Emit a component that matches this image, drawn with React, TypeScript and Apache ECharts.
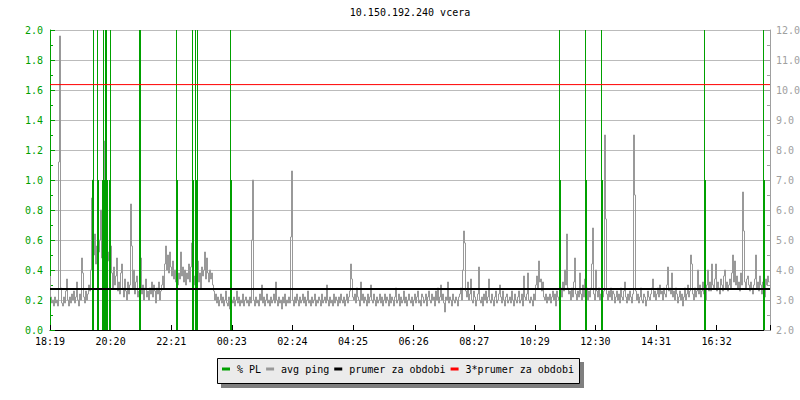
import React, { useEffect, useRef } from 'react';
import * as echarts from 'echarts';

const chartTitle = '10.150.192.240 vcera';
const xTickLabels = ['18:19', '20:20', '22:21', '00:23', '02:24', '04:25', '06:26', '08:27', '10:29', '12:30', '14:31', '16:32'];
const xTickStepMin = 121.2;
const periodMin = 1440;
const sampleStepMin = 2;

const legendNames = ['% PL', 'avg ping', 'prumer za obdobi', '3*prumer za obdobi'];

// avg ping [ms], one sample per 2 minutes, starting 18:19
const avgPing = [
  3.8, 3.1, 2.9, 3.0, 2.8, 3.1, 2.9, 3.0, 2.8, 7.6, 11.8, 3.4, 2.9, 2.8, 3.1, 2.9, 3.3, 3.7, 3.0, 2.8,
  3.1, 2.9, 3.2, 3.0, 3.3, 2.9, 3.1, 3.6, 3.0, 2.8, 3.2, 3.0, 4.4, 3.9, 3.1, 2.9, 3.3, 3.0, 3.2, 3.5,
  3.3, 4.0, 6.4, 7.0, 4.5, 5.2, 4.2, 4.8, 3.9, 4.6, 5.0, 6.0, 4.4, 3.8, 5.5, 8.3, 5.0, 5.8, 4.3, 4.6,
  3.6, 4.8, 3.9, 3.4, 4.1, 3.5, 3.8, 4.4, 3.3, 3.6, 3.2, 3.9, 4.2, 3.4, 3.1, 3.7, 3.3, 3.0, 3.6, 3.2,
  3.5, 6.2, 4.8, 3.4, 4.0, 3.2, 3.6, 3.8, 3.1, 3.3, 3.4, 4.4, 3.2, 3.5, 3.0, 3.4, 3.7, 3.1, 3.3, 3.0,
  3.4, 3.2, 3.6, 3.1, 3.5, 3.3, 2.9, 3.4, 3.2, 3.6, 3.0, 3.3, 3.5, 3.8, 3.4, 4.2, 4.8, 4.0, 4.5, 3.9,
  4.6, 4.1, 3.8, 4.3, 3.7, 4.0, 3.6, 4.2, 3.5, 3.9, 3.7, 4.6, 3.8, 4.1, 3.6, 4.0, 3.5, 3.9, 3.7, 4.2,
  3.6, 4.1, 4.9, 4.2, 3.8, 3.5, 4.0, 3.7, 4.3, 3.6, 3.9, 3.4, 4.1, 3.8, 4.0, 4.6, 3.7, 4.4, 3.9, 3.6,
  4.0, 3.7, 3.9, 3.5, 3.3, 3.0, 3.2, 2.9, 3.1, 2.8, 3.0, 3.2, 2.9, 3.1, 2.8, 3.0, 3.3, 2.9, 2.8, 3.1,
  2.7, 3.2, 3.0, 2.9, 3.1, 2.8, 3.0, 3.3, 2.9, 3.1, 2.8, 3.0, 2.9, 3.2, 2.8, 3.0, 3.1, 2.9, 3.0, 2.8,
  3.1, 2.9, 5.0, 7.0, 3.0, 2.8, 3.1, 2.9, 3.0, 2.8, 3.2, 3.0, 3.5, 2.9, 3.1, 2.8, 3.0, 3.2, 2.9, 3.0,
  2.8, 3.1, 2.9, 3.0, 3.2, 2.9, 3.6, 3.0, 2.8, 3.1, 2.9, 3.0, 2.7, 3.1, 2.9, 3.2, 2.8, 3.0, 2.9, 3.1,
  2.9, 5.1, 7.3, 3.0, 2.8, 3.1, 2.9, 3.2, 3.0, 2.8, 3.1, 2.9, 3.0, 3.2, 2.9, 3.1, 2.8, 3.0, 3.3, 2.9,
  3.0, 2.8, 3.1, 2.9, 3.0, 3.2, 2.8, 3.0, 2.9, 3.1, 3.0, 2.8, 3.2, 2.9, 3.0, 3.1, 2.9, 3.5, 3.0, 2.8,
  3.1, 2.9, 3.0, 2.8, 3.2, 2.9, 3.1, 3.0, 2.8, 3.1, 2.9, 3.2, 3.0, 2.9, 3.1, 2.8, 3.0, 3.2, 2.9, 3.1,
  3.3, 4.2, 3.7, 3.1, 3.0, 3.2, 2.9, 3.4, 3.1, 3.0, 2.8, 3.6, 3.0, 3.2, 2.9, 3.1, 3.0, 2.8, 3.2, 2.9,
  3.1, 3.5, 3.0, 2.9, 3.2, 3.0, 2.8, 3.1, 2.9, 3.0, 3.2, 2.9, 3.1, 2.8, 3.0, 3.2, 2.9, 3.1, 3.0, 2.8,
  3.2, 2.9, 3.1, 3.0, 2.8, 3.1, 3.4, 2.9, 3.0, 3.2, 2.8, 3.1, 2.9, 3.0, 3.3, 2.9, 3.1, 2.8, 3.0, 3.2,
  3.0, 2.9, 3.1, 2.8, 3.0, 3.2, 2.9, 3.1, 3.3, 2.9, 3.0, 2.8, 3.2, 3.1, 2.9, 3.0, 3.2, 2.8, 3.1, 3.3,
  3.0, 2.9, 3.2, 3.0, 3.1, 2.8, 3.3, 3.0, 3.4, 2.9, 3.1, 3.5, 3.0, 3.2, 2.9, 2.6, 3.1, 3.0, 3.6, 2.9,
  3.1, 3.0, 2.8, 3.2, 3.0, 2.9, 3.1, 3.0, 2.8, 3.1, 3.2, 3.4, 3.0, 4.0, 5.3, 4.9, 3.3, 3.1, 3.6, 3.0,
  3.2, 3.7, 3.0, 2.9, 3.3, 3.1, 2.8, 3.0, 3.2, 4.1, 3.0, 2.9, 3.1, 2.8, 3.2, 3.0, 3.3, 2.9, 3.1, 3.7,
  3.0, 2.9, 3.2, 3.0, 2.8, 3.1, 3.3, 2.9, 3.0, 3.2, 3.5, 3.1, 2.9, 3.3, 3.0, 2.8, 3.1, 3.2, 2.9, 3.0,
  3.1, 2.9, 3.3, 3.0, 2.8, 3.2, 3.0, 2.9, 3.1, 3.3, 2.9, 3.0, 3.2, 2.8, 3.8, 3.1, 3.0, 3.2, 3.9, 3.0,
  2.9, 3.1, 3.0, 2.8, 3.2, 3.0, 3.5, 3.8, 3.4, 4.3, 3.6, 3.7, 3.3, 3.6, 3.1, 3.0, 3.2, 2.9, 3.1, 3.0,
  3.2, 2.9, 3.1, 3.3, 3.0, 3.2, 2.8, 3.3, 3.1, 3.0, 3.2, 3.4, 3.1, 3.6, 3.3, 4.0, 3.5, 5.2, 3.4, 3.2,
  3.3, 3.0, 3.4, 3.1, 3.6, 4.4, 3.2, 3.0, 3.3, 3.1, 3.9, 3.2, 3.0, 3.5, 3.1, 3.7, 3.2, 3.4, 3.0, 3.3,
  3.1, 3.4, 4.2, 5.4, 3.2, 3.0, 4.0, 3.3, 3.1, 3.4, 3.0, 3.2, 2.7, 3.1, 3.3, 8.5, 5.7, 3.2, 3.0, 3.3,
  3.1, 3.4, 3.0, 3.3, 3.2, 2.9, 3.1, 3.3, 3.0, 3.2, 2.9, 3.4, 3.1, 3.0, 3.3, 3.6, 3.1, 2.9, 3.2, 3.0,
  3.3, 3.1, 2.9, 3.2, 8.5, 6.5, 3.3, 3.0, 3.2, 2.9, 3.1, 3.4, 3.0, 2.9, 3.2, 3.1, 2.8, 3.0, 3.3, 3.1,
  3.0, 3.2, 3.4, 3.7, 3.1, 3.3, 3.0, 3.2, 3.4, 3.1, 3.5, 3.2, 3.3, 3.0, 3.4, 3.2, 3.1, 3.5, 4.1, 3.3,
  3.4, 3.2, 3.9, 3.1, 3.3, 3.0, 3.4, 3.2, 2.9, 3.1, 3.3, 3.0, 3.2, 2.8, 3.1, 3.4, 3.0, 3.2, 3.5, 3.1,
  3.3, 4.5, 4.2, 3.2, 3.0, 3.4, 3.1, 3.3, 4.0, 3.2, 3.5, 3.1, 3.3, 3.6, 3.2, 3.4, 3.0, 3.5, 4.0, 3.3,
  3.6, 3.3, 4.2, 3.5, 3.4, 3.7, 4.2, 3.3, 3.6, 3.4, 3.2, 3.7, 3.5, 3.3, 3.8, 4.0, 3.4, 3.6, 3.3, 3.5,
  3.7, 3.4, 3.9, 4.5, 3.6, 4.3, 3.5, 3.8, 3.4, 3.6, 3.3, 3.9, 3.5, 6.6, 5.3, 3.6, 3.4, 3.7, 3.8, 3.5,
  3.3, 3.6, 3.4, 3.2, 3.5, 3.7, 4.5, 3.4, 3.6, 3.3, 3.8, 3.5, 3.2, 3.6, 3.4, 3.1, 3.7, 3.5, 3.8, 3.6,
];

// packet loss events: minute offset from 18:19, % PL
const plMinutes = [85, 87, 95, 97, 105, 107, 109, 111, 113, 115, 119, 121, 179, 181, 253, 255, 285, 287, 291, 293, 295, 361, 363, 1019, 1021, 1071, 1073, 1103, 1105, 1309, 1311, 1427, 1429];
const plValues = [1.0, 3.3, 3.3, 1.0, 1.0, 3.3, 1.0, 3.3, 3.3, 1.0, 1.0, 3.3, 3.3, 3.3, 3.3, 1.0, 3.3, 1.0, 3.3, 1.0, 3.3, 3.3, 1.0, 3.3, 1.0, 3.3, 1.0, 3.3, 1.0, 3.3, 1.0, 3.3, 1.0];

const pingMean = 3.37;
const pingMean3 = 10.18;

const plAxis = { min: 0, max: 2, step: 0.2 };
const pingAxis = { min: 2, max: 12, step: 1 };

const MONO = '"DejaVu Sans Mono", "Liberation Mono", monospace';
const GREEN = '#00a000';
const GRAY = '#999999';

export default function App() {
  const ref = useRef<HTMLDivElement>(null);
  useEffect(() => {
    document.body.style.margin = '0';
    const chart = echarts.init(ref.current!, null, { renderer: 'svg' });
    const option: any = {
      animation: false,
      title: {
        text: chartTitle,
        left: 410,
        top: 7,
        textAlign: 'center',
        padding: 0,
        textStyle: { fontFamily: MONO, fontSize: 10, fontWeight: 'normal', color: '#000' },
      },
      grid: { left: 50, right: 30, top: 30, bottom: 70, containLabel: false, outerBoundsMode: 'none' },
      xAxis: {
        type: 'value',
        min: 0,
        max: periodMin,
        interval: xTickStepMin,
        axisLine: { show: true, lineStyle: { color: '#000', width: 1 } },
        axisTick: { show: true, inside: true, length: 5, lineStyle: { color: '#000' } },
        axisLabel: {
          formatter: (v: number) => xTickLabels[Math.round(v / xTickStepMin)] ?? '',
          margin: 6,
          color: '#000',
          fontFamily: MONO,
          fontSize: 10,
        },
        splitLine: { show: false },
      },
      yAxis: [
        {
          type: 'value',
          position: 'left',
          min: plAxis.min,
          max: plAxis.max,
          interval: plAxis.step,
          axisLine: { show: true, lineStyle: { color: GREEN, width: 1 } },
          axisTick: { show: true, inside: true, length: 5, lineStyle: { color: GREEN } },
          minorTick: { show: true, splitNumber: 2, length: 3, lineStyle: { color: GREEN } },
          axisLabel: { color: GREEN, fontFamily: MONO, fontSize: 10, margin: 7, formatter: (v: number) => v.toFixed(1) },
          splitLine: { show: true, lineStyle: { color: '#bbbbbb', width: 1 } },
        },
        {
          type: 'value',
          position: 'right',
          min: pingAxis.min,
          max: pingAxis.max,
          interval: pingAxis.step,
          axisLine: { show: true, lineStyle: { color: '#a0a0a0', width: 1 } },
          axisTick: { show: true, inside: true, length: 6, lineStyle: { color: '#a0a0a0' } },
          minorTick: { show: true, splitNumber: 2, length: 3, lineStyle: { color: '#a0a0a0' } },
          axisLabel: { color: '#a0a0a0', fontFamily: MONO, fontSize: 10, margin: 6, formatter: (v: number) => v.toFixed(1) },
          splitLine: { show: false },
        },
      ],
      graphic: [
        { type: 'rect', z: 1, shape: { x: 221, y: 362, width: 363, height: 26 }, style: { fill: '#7f7f7f' } },
        { type: 'rect', z: 2, shape: { x: 217.5, y: 358.5, width: 362, height: 25 }, style: { fill: '#ebebeb', stroke: '#000', lineWidth: 1 } },
      ],
      legend: {
        z: 10,
        data: legendNames,
        left: 222,
        top: 364,
        padding: 0,
        itemGap: 5,
        itemWidth: 8,
        itemHeight: 3,
        icon: 'rect',
        textStyle: { fontFamily: MONO, fontSize: 10, color: '#000', padding: [0, 0, 0, 2] },
      },
      series: [
        {
          name: legendNames[1],
          type: 'line',
          yAxisIndex: 1,
          step: 'start',
          symbol: 'none',
          color: GRAY,
          lineStyle: { color: GRAY, width: 1 },
          data: avgPing.map((v, i) => [i * sampleStepMin + sampleStepMin / 2, v]),
          z: 2,
        },
        {
          name: legendNames[0],
          type: 'bar',
          yAxisIndex: 0,
          barWidth: 1,
          clip: true,
          color: GREEN,
          itemStyle: { color: GREEN },
          data: plMinutes.map((m, i) => [m, plValues[i]]),
          z: 3,
        },
        {
          name: legendNames[2],
          type: 'line',
          yAxisIndex: 1,
          symbol: 'none',
          color: '#000',
          lineStyle: { color: '#000', width: 2 },
          data: [[0, pingMean], [periodMin, pingMean]],
          z: 4,
        },
        {
          name: legendNames[3],
          type: 'line',
          yAxisIndex: 1,
          symbol: 'none',
          color: '#ff0000',
          lineStyle: { color: '#ff0000', width: 1 },
          data: [[0, pingMean3], [periodMin, pingMean3]],
          z: 5,
        },
      ],
    };
    chart.setOption(option);
    return () => chart.dispose();
  }, []);
  return <div ref={ref} style={{ width: 800, height: 400 }} />;
}
